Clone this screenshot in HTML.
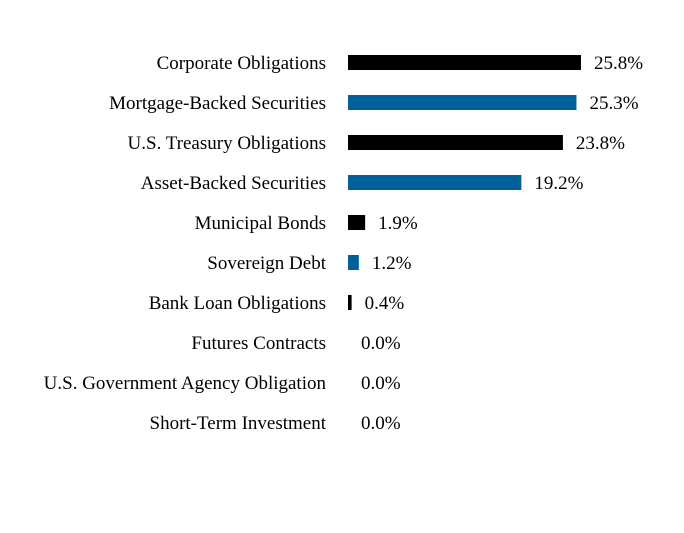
<!DOCTYPE html>
<html><head><meta charset="utf-8"><style>
body{margin:0;background:#fff;}
svg text{font-family:"Liberation Serif",serif;font-size:19px;fill:#000;}
</style></head><body>
<svg width="684" height="528">
<g id="chart"></g>
</svg>
<script>
const categories=["Corporate Obligations","Mortgage-Backed Securities","U.S. Treasury Obligations","Asset-Backed Securities","Municipal Bonds","Sovereign Debt","Bank Loan Obligations","Futures Contracts","U.S. Government Agency Obligation","Short-Term Investment"];
const values=[25.8,25.3,23.8,19.2,1.9,1.2,0.4,0.0,0.0,0.0];
const labels=["25.8%","25.3%","23.8%","19.2%","1.9%","1.2%","0.4%","0.0%","0.0%","0.0%"];
const colors=["#000000","#006198"];
const x0=348, pxPer=9.03, y0=62.5, step=40, bh=15;
const xs=v=>x0+v*pxPer;
const ys=i=>y0+i*step;
const g=document.getElementById('chart');
const ns="http://www.w3.org/2000/svg";
categories.forEach((c,i)=>{
  const t=document.createElementNS(ns,'text');
  
  
  t.setAttribute('x',326);t.setAttribute('y',ys(i)+6.5);t.setAttribute('text-anchor','end');
  t.textContent=c;g.appendChild(t);
  if(values[i]>0){
    const r=document.createElementNS(ns,'rect');
    
    
    r.setAttribute('x',x0);r.setAttribute('y',ys(i)-bh/2);
    r.setAttribute('width',xs(values[i])-x0);r.setAttribute('height',bh);
    r.setAttribute('fill',colors[i%2]);g.appendChild(r);
  }
  const v=document.createElementNS(ns,'text');
  
  
  v.setAttribute('x',xs(values[i])+13);v.setAttribute('y',ys(i)+6.5);
  v.textContent=labels[i];g.appendChild(v);
});
</script>
</body></html>
